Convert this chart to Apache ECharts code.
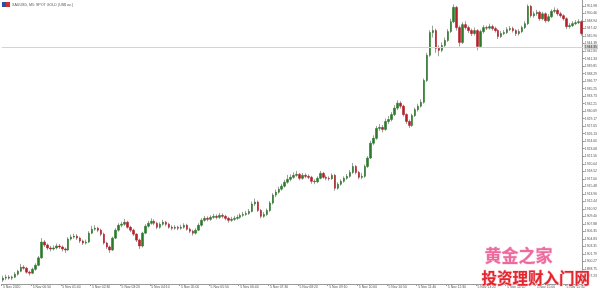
<!DOCTYPE html>
<html><head><meta charset="utf-8">
<script src="https://cdn.jsdelivr.net/npm/echarts@6.0.0/dist/echarts.min.js"></script>
<style>html,body{margin:0;padding:0;background:#fff}#c{width:600px;height:291px}</style>
</head><body><div id="c"></div>
<script>
const title = "XAUUSD, M5: SPOT GOLD (US$ oz.)";
const tickLabels = ["5 Nov 2020","5 Nov 00:50","5 Nov 01:40","5 Nov 02:30","5 Nov 03:20","5 Nov 04:10","5 Nov 05:00","5 Nov 05:50","5 Nov 06:40","5 Nov 07:30","5 Nov 08:20","5 Nov 09:10","5 Nov 10:00","5 Nov 10:50","5 Nov 11:40","5 Nov 12:30","5 Nov 13:20","5 Nov 14:10","5 Nov 15:00","5 Nov 15:50"];
const opens = [1896.5,1896.9,1897.1,1896.9,1897.1,1897.7,1898.3,1899.1,1898.9,1898.1,1897.9,1898.7,1899.5,1901.0,1904.2,1903.6,1903.0,1902.8,1903.0,1903.4,1903.2,1902.8,1902.6,1904.8,1905.2,1905.4,1905.0,1904.4,1904.0,1904.2,1906.0,1906.8,1907.0,1906.6,1905.8,1904.0,1903.2,1902.6,1905.0,1906.6,1907.6,1907.8,1908.2,1907.2,1906.6,1905.8,1904.6,1903.4,1906.0,1907.4,1908.0,1908.4,1908.0,1907.2,1907.8,1908.2,1907.8,1907.2,1907.0,1907.2,1907.0,1907.2,1907.6,1906.8,1906.4,1906.0,1906.6,1907.6,1908.6,1909.0,1908.8,1909.2,1909.4,1909.2,1909.6,1909.4,1909.0,1908.6,1908.8,1909.0,1909.2,1909.6,1909.8,1910.0,1910.4,1911.9,1912.3,1910.6,1909.4,1909.8,1910.6,1912.1,1913.7,1914.3,1914.9,1915.5,1916.3,1916.9,1917.3,1917.7,1917.9,1917.1,1917.7,1917.5,1917.3,1916.5,1916.4,1917.1,1918.1,1917.3,1917.1,1917.0,1917.7,1915.1,1915.9,1916.5,1917.1,1917.5,1918.3,1919.5,1918.3,1917.3,1917.5,1919.5,1921.2,1924.2,1925.2,1927.2,1927.4,1927.0,1928.6,1929.0,1930.0,1931.3,1932.3,1931.7,1930.0,1928.6,1927.8,1929.8,1931.0,1931.7,1932.5,1936.9,1942.0,1946.6,1947.0,1943.4,1943.0,1944.0,1945.0,1946.8,1948.8,1951.7,1947.6,1944.6,1948.2,1947.6,1947.0,1946.4,1947.0,1943.8,1946.8,1947.6,1947.5,1947.8,1947.4,1947.0,1945.8,1946.4,1946.6,1947.2,1947.4,1947.0,1946.4,1946.8,1947.6,1948.4,1951.9,1950.0,1950.4,1950.7,1949.4,1950.4,1949.0,1949.8,1950.9,1951.1,1950.4,1950.0,1949.4,1947.8,1948.0,1948.4,1948.6,1948.8];
const closes = [1896.9,1897.1,1896.9,1897.1,1897.7,1898.3,1899.1,1898.9,1898.1,1897.9,1898.7,1899.5,1901.0,1904.2,1903.6,1903.0,1902.8,1903.0,1903.4,1903.2,1902.8,1902.6,1904.8,1905.2,1905.4,1905.0,1904.4,1904.0,1904.2,1906.0,1906.8,1907.0,1906.6,1905.8,1904.0,1903.2,1902.6,1905.0,1906.6,1907.6,1907.8,1908.2,1907.2,1906.6,1905.8,1904.6,1903.4,1906.0,1907.4,1908.0,1908.4,1908.0,1907.2,1907.8,1908.2,1907.8,1907.2,1907.0,1907.2,1907.0,1907.2,1907.6,1906.8,1906.4,1906.0,1906.6,1907.6,1908.6,1909.0,1908.8,1909.2,1909.4,1909.2,1909.6,1909.4,1909.0,1908.6,1908.8,1909.0,1909.2,1909.6,1909.8,1910.0,1910.4,1911.9,1912.3,1910.6,1909.4,1909.8,1910.6,1912.1,1913.7,1914.3,1914.9,1915.5,1916.3,1916.9,1917.3,1917.7,1917.9,1917.1,1917.7,1917.5,1917.3,1916.5,1916.4,1917.1,1918.1,1917.3,1917.1,1917.0,1917.7,1915.1,1915.9,1916.5,1917.1,1917.5,1918.3,1919.5,1918.3,1917.3,1917.5,1919.5,1921.2,1924.2,1925.2,1927.2,1927.4,1927.0,1928.6,1929.0,1930.0,1931.3,1932.3,1931.7,1930.0,1928.6,1927.8,1929.8,1931.0,1931.7,1932.5,1936.9,1942.0,1946.6,1947.0,1943.4,1943.0,1944.0,1945.0,1946.8,1948.8,1951.7,1947.6,1944.6,1948.2,1947.6,1947.0,1946.4,1947.0,1943.8,1946.8,1947.6,1947.5,1947.8,1947.4,1947.0,1945.8,1946.4,1946.6,1947.2,1947.4,1947.0,1946.4,1946.8,1947.6,1948.4,1951.9,1950.0,1950.4,1950.7,1949.4,1950.4,1949.0,1949.8,1950.9,1951.1,1950.4,1950.0,1949.4,1947.8,1948.0,1948.4,1948.6,1948.8,1946.4];
const highs = [1897.4,1897.6,1897.5,1897.4,1898.1,1898.6,1899.8,1899.5,1899.2,1898.4,1899.0,1899.9,1901.4,1905.0,1904.6,1903.9,1903.4,1903.5,1903.9,1903.8,1903.5,1903.1,1905.2,1905.7,1905.9,1905.8,1905.3,1904.7,1904.7,1906.4,1907.5,1907.6,1907.3,1906.9,1906.1,1904.3,1903.5,1905.3,1907.0,1908.0,1908.3,1908.9,1908.5,1907.5,1906.9,1906.0,1904.9,1906.3,1907.8,1908.5,1909.0,1908.8,1908.3,1908.2,1908.7,1908.5,1908.1,1907.6,1907.6,1907.5,1907.7,1908.0,1907.9,1907.1,1906.7,1907.0,1908.0,1909.0,1909.5,1909.4,1909.6,1909.9,1909.8,1910.1,1910.0,1909.7,1909.3,1909.3,1909.5,1909.7,1910.0,1910.3,1910.5,1910.9,1912.4,1913.0,1912.6,1910.9,1910.3,1911.0,1912.5,1914.1,1914.8,1915.4,1916.0,1916.8,1917.8,1917.9,1918.3,1918.6,1918.2,1918.2,1918.1,1917.9,1917.6,1916.9,1917.5,1918.6,1918.4,1917.7,1917.5,1918.1,1918.0,1916.3,1916.9,1917.5,1918.0,1918.8,1920.2,1919.8,1918.6,1918.2,1919.9,1921.6,1924.7,1925.8,1927.7,1928.1,1927.9,1929.2,1929.7,1930.5,1931.9,1932.9,1932.7,1932.0,1930.3,1929.0,1930.2,1931.4,1932.2,1933.1,1937.3,1942.5,1947.1,1948.0,1947.4,1944.0,1944.6,1945.6,1947.3,1949.4,1952.3,1952.0,1948.0,1948.7,1948.9,1948.0,1947.4,1947.6,1947.3,1947.2,1948.1,1948.0,1948.4,1948.2,1947.8,1947.3,1946.9,1947.1,1947.7,1947.9,1947.8,1947.3,1947.3,1948.0,1948.9,1952.3,1952.2,1950.9,1951.2,1951.0,1950.8,1950.7,1950.3,1951.3,1951.7,1951.5,1950.8,1950.3,1949.7,1948.5,1948.9,1949.1,1949.3,1949.1];
const lows = [1896.1,1896.5,1896.6,1896.5,1896.9,1897.4,1898.1,1898.6,1897.8,1897.4,1897.7,1898.4,1899.3,1900.8,1903.2,1902.6,1902.3,1902.5,1902.7,1902.8,1902.3,1902.0,1902.4,1904.5,1904.9,1904.6,1904.0,1903.6,1903.7,1904.0,1905.8,1906.5,1906.2,1905.4,1903.7,1902.8,1902.0,1902.4,1904.8,1906.3,1907.2,1907.5,1906.9,1906.2,1905.4,1904.2,1902.8,1903.1,1905.8,1907.1,1907.7,1907.6,1906.8,1906.9,1907.5,1907.4,1906.9,1906.6,1906.7,1906.6,1906.7,1906.9,1906.5,1906.0,1905.5,1905.7,1906.4,1907.3,1908.3,1908.4,1908.5,1908.9,1908.8,1908.9,1909.0,1908.6,1908.1,1908.3,1908.5,1908.7,1908.9,1909.3,1909.5,1909.7,1910.2,1911.5,1910.3,1909.0,1909.1,1909.5,1910.3,1911.8,1913.3,1914.0,1914.6,1915.2,1916.0,1916.5,1917.0,1917.4,1916.7,1916.8,1917.1,1916.9,1916.0,1915.9,1916.1,1916.9,1917.0,1916.7,1916.6,1916.8,1914.6,1914.8,1915.6,1916.2,1916.8,1917.2,1918.0,1917.9,1916.9,1916.9,1917.2,1919.2,1921.0,1923.8,1924.9,1926.7,1926.4,1926.7,1928.1,1928.6,1929.7,1930.9,1931.2,1929.6,1928.1,1927.3,1927.5,1929.5,1930.6,1931.4,1932.2,1936.6,1941.7,1945.6,1942.5,1941.8,1942.6,1943.6,1944.7,1946.5,1948.5,1947.0,1943.8,1944.3,1947.2,1946.5,1945.9,1946.0,1943.0,1943.5,1946.4,1947.1,1947.2,1947.0,1946.6,1945.3,1945.5,1946.1,1946.3,1946.9,1946.6,1945.9,1946.0,1946.5,1947.3,1948.1,1949.6,1949.6,1950.0,1949.0,1949.1,1948.6,1948.7,1949.5,1950.5,1950.0,1949.6,1949.0,1947.3,1947.4,1947.7,1948.1,1948.3,1946.0];
const linePrice = 1943.7;

const cats = closes.map((_, i) => i);
const full = closes.map((c, i) => [opens[i], c, lows[i], highs[i]]);
const bodies = closes.map((c, i) => [opens[i], c, Math.min(opens[i], c), Math.max(opens[i], c)]);

const chart = echarts.init(document.getElementById('c'), null, {renderer: 'canvas'});
const UP = '#2b7a2b', DOWN = '#b3202a', WICK = '#a0a0a0';
chart.setOption({
  animation: false,
  backgroundColor: '#ffffff',
  grid: {left: 0, right: 13, top: 0, bottom: 7, containLabel: false},
  xAxis: {
    type: 'category', data: cats, boundaryGap: true,
    axisLine: {show: true, lineStyle: {color: '#9a9a9a', width: 1}},
    axisTick: {show: true, interval: 9, length: 2, lineStyle: {color: '#9a9a9a'}},
    axisLabel: {
      show: true, interval: 9, fontSize: 3.4, color: '#555', margin: 2, align: 'left',
      fontFamily: 'Liberation Sans',
      formatter: (v, i) => tickLabels[Math.round(i / 10)] || ''
    },
    splitLine: {show: false}
  },
  yAxis: {
    type: 'value', position: 'right', scale: true,
    min: 1895.709, max: 1953.19, interval: 1.520833,
    axisLine: {show: true, lineStyle: {color: '#9a9a9a', width: 1}},
    axisTick: {show: true, length: 2, lineStyle: {color: '#9a9a9a'}},
    axisLabel: {
      fontSize: 3.4, color: '#555', margin: 2, fontFamily: 'Liberation Sans',
      showMinLabel: false, showMaxLabel: false,
      formatter: v => v.toFixed(2)
    },
    splitLine: {show: false}
  },
  graphic: [
    {type: 'rect', left: 2, top: 2, shape: {width: 4, height: 5}, style: {fill: '#2c4fa8'}},
    {type: 'rect', left: 6, top: 2, shape: {width: 4, height: 5}, style: {fill: '#c8303a'}},
    {type: 'text', left: 12, top: 3, style: {text: title, fontSize: 3.6, fill: '#555', fontFamily: 'Liberation Sans'}},
    {type: 'text', left: 484, top: 247, z: 100, style: {text: '黄金之家', fontSize: 17, fontWeight: 'bold', fill: '#ee6a9e', stroke: '#f9d3e2', lineWidth: 1, fontFamily: 'Noto Sans CJK SC'}},
    {type: 'text', left: 481, top: 270, z: 100, style: {text: '投资理财入门网', fontSize: 15.5, fontWeight: 'bold', fill: '#e3262e', stroke: '#fbd0d6', lineWidth: 1.2, fontFamily: 'Noto Sans CJK SC'}}
  ],
  series: [
    {
      type: 'candlestick', data: full, barWidth: 1, z: 2,
      itemStyle: {color: WICK, color0: WICK, borderColor: WICK, borderColor0: WICK, borderWidth: 1},
      markLine: {
        silent: true, symbol: 'none', animation: false,
        lineStyle: {color: '#d4d4d4', type: 'solid', width: 1},
        label: {show: true, position: 'end', distance: 1, fontSize: 3.4, color: '#333', backgroundColor: '#cfcfcf', padding: [1, 1], formatter: '1944.35', fontFamily: 'Liberation Sans'},
        data: [{yAxis: linePrice}]
      }
    },
    {
      type: 'candlestick', data: bodies, barWidth: 2, z: 3,
      itemStyle: {color: UP, color0: DOWN, borderColor: UP, borderColor0: DOWN, borderWidth: 0.6}
    }
  ]
});
</script></body></html>
